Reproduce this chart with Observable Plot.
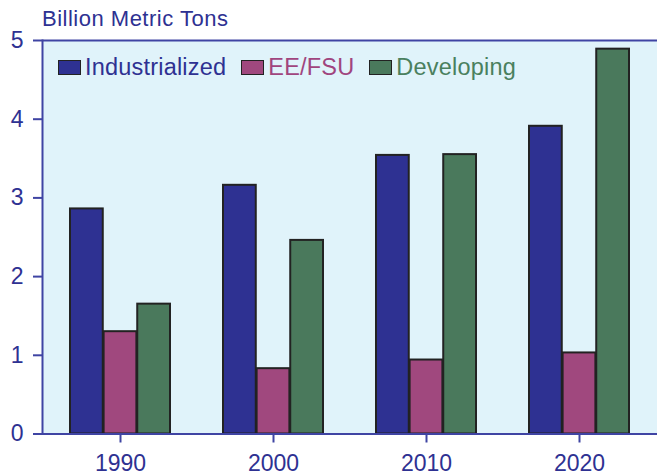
<!DOCTYPE html>
<html>
<head>
<meta charset="utf-8">
<script src="https://cdn.jsdelivr.net/npm/d3@7"></script>
<script src="https://cdn.jsdelivr.net/npm/@observablehq/plot@0.6"></script>
<style>
  html, body { margin: 0; padding: 0; background: #fff; }
  #wrap { position: relative; width: 657px; height: 475px; font-family: Arial, "Liberation Sans", sans-serif; }
  #title { position: absolute; left: 42px; top: 6px; font-size: 22px; color: #2e3192; letter-spacing: 0.5px; z-index: 2; }
  #legend { position: absolute; left: 58px; top: 54px; display: flex; font-size: 23.5px; letter-spacing: 0.2px; z-index: 2; }
  .item { display: flex; align-items: center; margin-right: 15px; }
  .sw { width: 21px; height: 13px; border: 1.5px solid #222; margin-right: 4px; }
</style>
</head>
<body>
<div id="wrap">
  <div id="title">Billion Metric Tons</div>
  <div id="legend"></div>
</div>
<script>
const years = ["1990", "2000", "2010", "2020"];
const series = ["Industrialized", "EE/FSU", "Developing"];
const industrialized = [2.86, 3.16, 3.54, 3.91];
const eefsu = [1.30, 0.83, 0.94, 1.03];
const developing = [1.65, 2.46, 3.55, 4.89];
const colors = ["#2e3192", "#a0487e", "#4a795c"];
const textColors = ["#2e3192", "#a0457e", "#4a805e"];
const yTicks = [0, 1, 2, 3, 4, 5];

const valuesBySeries = [industrialized, eefsu, developing];

const W = 657, H = 475, ML = 42, MR = 0, MT = 40, MB = 41.5;
const padInner = 0.344, padOuter = 0.172;
// bandwidth of the x band scale, to split each year band into three bars
const band = d3.scaleBand(years, [ML, W - MR]).paddingInner(padInner).paddingOuter(padOuter).bandwidth();
const third = band / 3;

const axisColor = "#3f44a3";
const barMarks = series.map((s, j) =>
  Plot.barY(years.map((yr, i) => ({year: yr, series: s, value: valuesBySeries[j][i]})), {
    x: "year", y: "value", fill: colors[j], stroke: "#222", strokeWidth: 2,
    insetLeft: j * third, insetRight: (2 - j) * third
  })
);

const chart = Plot.plot({
  width: W,
  height: H,
  marginLeft: ML,
  marginRight: MR,
  marginTop: MT,
  marginBottom: MB,
  style: {fontFamily: "Arial, 'Liberation Sans', sans-serif", background: "transparent", overflow: "visible"},
  x: {domain: years, paddingInner: padInner, paddingOuter: padOuter, align: 0.5, axis: null},
  y: {domain: [0, 5], axis: null},
  marks: [
    Plot.frame({fill: "#e0f3fa", stroke: null}),
    ...barMarks,
    Plot.ruleY([5], {stroke: axisColor, strokeWidth: 2}),
    Plot.ruleY([0], {stroke: axisColor, strokeWidth: 2}),
    Plot.frame({anchor: "left", stroke: axisColor, strokeWidth: 2}),
    Plot.axisY(yTicks, {tickSize: 9, tickPadding: 10, fontSize: 23, color: "#2e3192", stroke: axisColor, strokeWidth: 2, tickFormat: d => String(d), label: null}),
    Plot.axisX({tickSize: 9, tickPadding: 12, fontSize: 23, color: "#2e3192", stroke: axisColor, strokeWidth: 2, label: null})
  ]
});
document.getElementById("wrap").prepend(chart);
chart.style.position = "absolute";
chart.style.left = "0";
chart.style.top = "0";
const legend = document.getElementById("legend");
series.forEach((s, j) => {
  const it = document.createElement("div");
  it.className = "item";
  const sw = document.createElement("div");
  sw.className = "sw";
  sw.style.background = colors[j];
  const tx = document.createElement("span");
  tx.textContent = s;
  tx.style.color = textColors[j];
  it.appendChild(sw);
  it.appendChild(tx);
  legend.appendChild(it);
});
</script>
</body>
</html>
